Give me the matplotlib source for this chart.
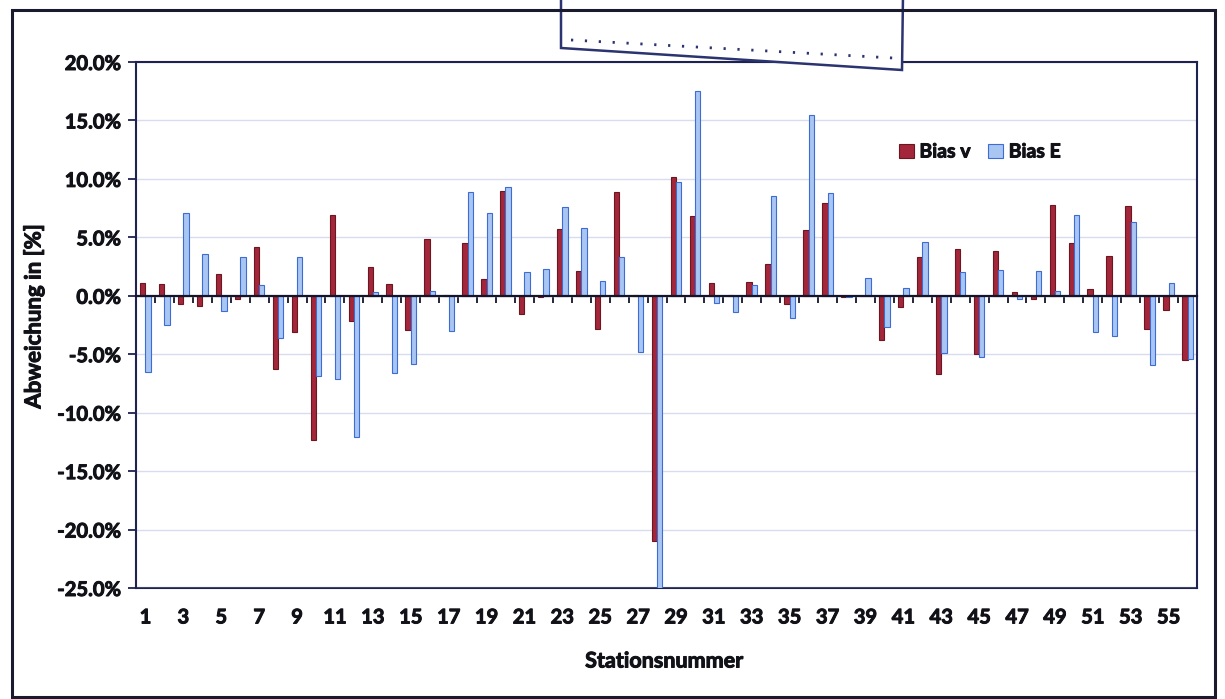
import matplotlib
matplotlib.use('Agg')
import matplotlib.pyplot as plt
import matplotlib.patheffects as pe
import numpy as np
from matplotlib.patches import Polygon, Rectangle
from matplotlib.lines import Line2D

plt.rcParams['font.family'] = ['Lato', 'DejaVu Sans']
plt.rcParams['font.weight'] = 'bold'

stations = list(range(1, 57))
bias_v = [1.1, 1.0, -0.7, -0.9, 1.9, -0.3, 4.2, -6.3, -3.1, -12.3,
          6.9, -2.2, 2.5, 1.0, -2.9, 4.9, 0.1, 4.5, 1.4, 9.0,
          -1.6, -0.1, 5.7, 2.1, -2.8, 8.9, 0.05, -21.0, 10.2, 6.8,
          1.1, 0.1, 1.2, 2.7, -0.7, 5.6, 7.9, -0.1, 0.0, -3.8,
          -1.0, 3.3, -6.7, 4.0, -5.0, 3.8, 0.3, -0.3, 7.8, 4.5,
          0.6, 3.4, 7.7, -2.8, -1.2, -5.5]
bias_e = [-6.5, -2.5, 7.1, 3.6, -1.3, 3.3, 0.9, -3.6, 3.3, -6.9,
          -7.1, -12.1, 0.3, -6.6, -5.8, 0.4, -3.0, 8.9, 7.1, 9.3,
          2.0, 2.3, 7.6, 5.8, 1.3, 3.3, -4.8, -26.5, 9.7, 17.5,
          -0.6, -1.4, 0.9, 8.5, -1.9, 15.5, 8.8, -0.1, 1.5, -2.7,
          0.7, 4.6, -4.9, 2.0, -5.2, 2.2, -0.3, 2.1, 0.4, 6.9,
          -3.1, -3.4, 6.3, -5.9, 1.1, -5.4]
series_names = ['Bias v', 'Bias E']
y_ticks = [-25, -20, -15, -10, -5, 0, 5, 10, 15, 20]

W, H = 1225, 699
fig = plt.figure(figsize=(W / 100, H / 100), dpi=100)
fig.patch.set_facecolor('white')

TXT = '#111118'
heavy = [pe.withStroke(linewidth=0.7, foreground=TXT)]

def fx(px):
    return px / W

def fy(py):
    return 1 - py / H

ax = fig.add_axes([fx(136), fy(588), fx(1197) - fx(136), fy(62) - fy(588)])

x = np.array(stations, dtype=float)
bw = 0.28
ax.bar(x - bw / 2, bias_v, width=bw, color='#A3263A', edgecolor='#6B1620',
       linewidth=0.8, label=series_names[0], zorder=2)
ax.bar(x + bw / 2, bias_e, width=bw, color='#A9C6F2', edgecolor='#3D6CD4',
       linewidth=0.8, label=series_names[1], zorder=2)

ax.set_xlim(0.5, 56.5)
ax.set_ylim(-25, 20)
ax.set_yticks(y_ticks)
ax.set_yticklabels([f'{v:.1f}%' for v in y_ticks])
ax.yaxis.grid(True, color='#D8DCEE', linewidth=1.0, zorder=0)
ax.set_axisbelow(True)

frame_col = '#1E2250'
for s in ['left', 'top', 'right']:
    ax.spines[s].set_color(frame_col)
    ax.spines[s].set_linewidth(1.5)
ax.spines['bottom'].set_position(('data', 0))
ax.spines['bottom'].set_color('#15152A')
ax.spines['bottom'].set_linewidth(1.6)
ax.spines['bottom'].set_zorder(3)

ax.set_xticks(np.arange(0.5, 57, 1.0))
ax.tick_params(axis='x', direction='out', length=5, width=1.3,
               color='#15152A', labelbottom=False)
ax.tick_params(axis='y', direction='out', length=6, width=1.3,
               color=frame_col, labelsize=14.5, pad=5, labelcolor=TXT)
for lab in ax.get_yticklabels():
    lab.set_fontweight('bold')
    lab.set_path_effects(heavy)

sec = ax.secondary_xaxis(0.0)
sec.set_xticks(stations[::2])
sec.set_xticklabels([str(s) for s in stations[::2]], fontweight='bold')
sec.tick_params(length=0, pad=14, labelsize=14.5, labelcolor=TXT)
for lab in sec.get_xticklabels():
    lab.set_path_effects(heavy)
sec.spines['bottom'].set_color(frame_col)
sec.spines['bottom'].set_linewidth(1.5)

fig.text(fx(664), fy(661), 'Stationsnummer', ha='center', va='center',
         fontsize=15.5, fontweight='bold', color=TXT, path_effects=heavy)
fig.text(fx(34), fy(316), 'Abweichung in [%]', ha='center', va='center',
         rotation=90, fontsize=16, fontweight='bold', color=TXT,
         path_effects=heavy)

leg = ax.legend(loc='center left', bbox_to_anchor=(fx(899), fy(152)),
                bbox_transform=fig.transFigure, ncol=2, frameon=False,
                prop={'weight': 'bold', 'size': 14}, handlelength=0.75,
                handleheight=0.75, handletextpad=0.3, columnspacing=0.9,
                borderpad=0, borderaxespad=0)
for t in leg.get_texts():
    t.set_color(TXT)
    t.set_path_effects(heavy)

# scanned overlay box at the top
box = Polygon([(fx(561), fy(-5)), (fx(903), fy(-5)), (fx(902), fy(70)),
               (fx(561), fy(48))], closed=True, transform=fig.transFigure,
              facecolor='white', edgecolor='#2B3470', linewidth=1.8, zorder=10)
fig.add_artist(box)
dots = Line2D([fx(571), fx(893)], [fy(40), fy(58)], transform=fig.transFigure,
              color='#2B3470', linewidth=2, linestyle=(0, (0.8, 4.2)), zorder=11)
fig.add_artist(dots)

# outer chart border
outer = Rectangle((fx(12), fy(697)), fx(1215) - fx(12), fy(10) - fy(697),
                  transform=fig.transFigure, fill=False, edgecolor='#1A1A2E',
                  linewidth=2.2, zorder=12)
fig.add_artist(outer)

fig.savefig('out.png', dpi=100)
